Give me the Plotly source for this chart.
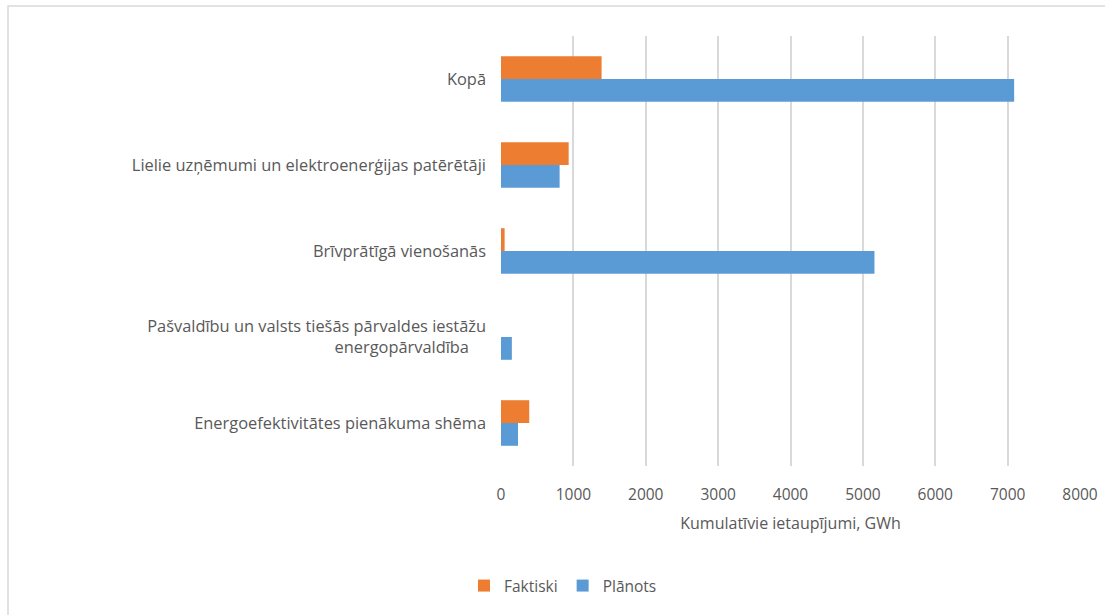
import plotly.graph_objects as go

categories = [
    "Energoefektivitātes pienākuma shēma",
    "Pašvaldību un valsts tiešās pārvaldes iestāžu<br>energopārvaldība&nbsp;&nbsp;&nbsp;&nbsp;",
    "Brīvprātīgā vienošanās",
    "Lielie uzņēmumi un elektroenerģijas patērētāji",
    "Kopā",
]
planots = [235, 150, 5160, 810, 7090]
faktiski = [390, 0, 50, 935, 1390]
x_ticks = [0, 1000, 2000, 3000, 4000, 5000, 6000, 7000, 8000]

W, H = 1105, 615
L, R, T, B = 501, 25, 36, 149
pw, ph = W - L - R, H - T - B

FONT = "Open Sans, Calibri, sans-serif"
GREY = "#595959"

fig = go.Figure()
fig.add_trace(go.Bar(y=categories, x=planots, name="Plānots", orientation="h",
                     marker=dict(color="#5b9bd5", line=dict(width=0)), legendrank=2))
fig.add_trace(go.Bar(y=categories, x=faktiski, name="Faktiski", orientation="h",
                     marker=dict(color="#ed7d31", line=dict(width=0)), legendrank=1))

def px_x(p):
    return (p - L) / pw

def px_y(p):
    return (H - B - p) / ph

fig.update_layout(
    width=W, height=H,
    margin=dict(l=L, r=R, t=T, b=B, autoexpand=False),
    paper_bgcolor="white", plot_bgcolor="white",
    font=dict(family=FONT, size=16, color=GREY),
    barmode="group", bargap=0.47, bargroupgap=0,
    showlegend=True,
    legend=dict(orientation="h", x=px_x(563), xanchor="center", y=px_y(586), yanchor="middle",
                font=dict(family=FONT, size=15.5, color=GREY), itemwidth=30, traceorder="normal"),
    xaxis=dict(range=[0, 8000], tickvals=x_ticks, ticktext=[str(v) for v in x_ticks],
               showgrid=True, gridcolor="#d9d9d9", gridwidth=1.5, zeroline=False,
               showline=False, ticks="", ticklabelstandoff=17,
               tickfont=dict(family=FONT, size=15.5, color=GREY),
               title=dict(text="Kumulatīvie ietaupījumi, GWh", standoff=14,
                          font=dict(family=FONT, size=16, color=GREY))),
    yaxis=dict(type="category", showgrid=False, zeroline=False, showline=False,
               ticks="", ticklabelstandoff=14,
               tickfont=dict(family=FONT, size=16.4, color=GREY)),
    shapes=[dict(type="rect", xref="paper", yref="paper",
                 x0=px_x(8), x1=px_x(1140), y0=px_y(650), y1=px_y(6),
                 line=dict(color="#d9d9d9", width=1.5), fillcolor="rgba(0,0,0,0)", layer="below")],
)

fig.write_html("out.html")
